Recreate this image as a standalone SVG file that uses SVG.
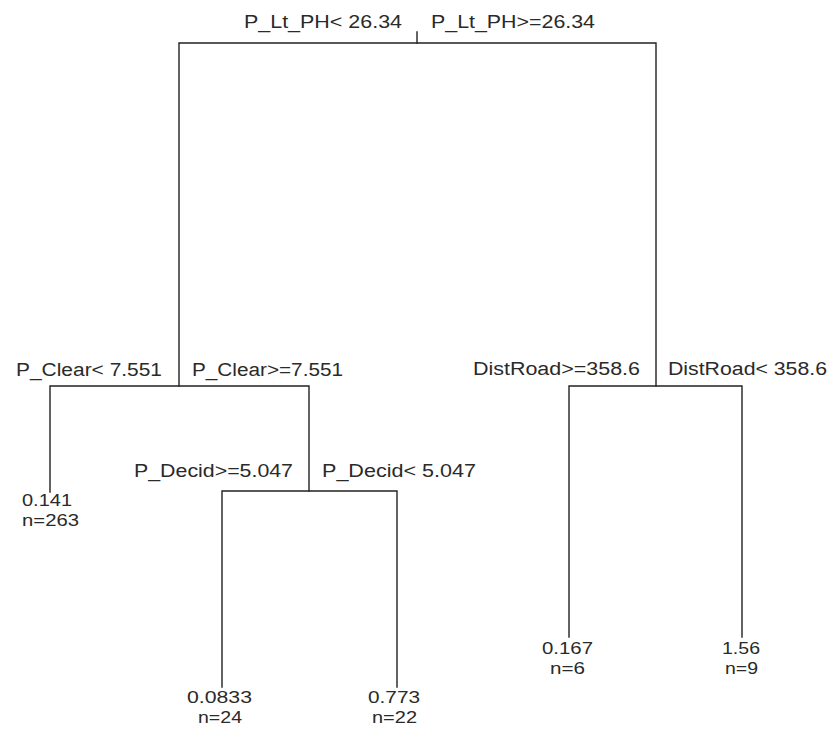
<svg xmlns="http://www.w3.org/2000/svg" width="833" height="734" viewBox="0 0 833 734">
  <style>
    .edge { stroke: #222; stroke-width: 1.4; fill: none; stroke-linecap: square; }
    text { font-family: "Liberation Sans", Arial, sans-serif; font-size: 18px; fill: #2a2a2a; }
    .leaf text { font-size: 17px; }
  </style>
  <rect width="833" height="734" fill="#ffffff"/>

  <!-- tree branches -->
  <g id="connectors">
    <path class="edge" d="M417,32 V43"/>
    <path class="edge" d="M179,386 V43 H656 V386"/>
    <path class="edge" d="M50,492 V386 H309 V491"/>
    <path class="edge" d="M569,637 V386 H742 V637"/>
    <path class="edge" d="M222,687 V491 H397 V687"/>
  </g>

  <!-- root split -->
  <g id="split-root">
    <text x="244" y="28" textLength="158" lengthAdjust="spacingAndGlyphs">P_Lt_PH&lt; 26.34</text>
    <text x="431" y="28" textLength="164" lengthAdjust="spacingAndGlyphs">P_Lt_PH&gt;=26.34</text>
  </g>

  <!-- left split -->
  <g id="split-clear">
    <text x="16" y="376" textLength="146" lengthAdjust="spacingAndGlyphs">P_Clear&lt; 7.551</text>
    <text x="192" y="376" textLength="151" lengthAdjust="spacingAndGlyphs">P_Clear&gt;=7.551</text>
  </g>

  <!-- right split -->
  <g id="split-distroad">
    <text x="473" y="375" textLength="167" lengthAdjust="spacingAndGlyphs">DistRoad&gt;=358.6</text>
    <text x="668" y="375" textLength="159" lengthAdjust="spacingAndGlyphs">DistRoad&lt; 358.6</text>
  </g>

  <!-- deciduous split -->
  <g id="split-decid">
    <text x="134" y="477" textLength="159" lengthAdjust="spacingAndGlyphs">P_Decid&gt;=5.047</text>
    <text x="322" y="477" textLength="154" lengthAdjust="spacingAndGlyphs">P_Decid&lt; 5.047</text>
  </g>

  <!-- leaves -->
  <g id="leaf-1" class="leaf">
    <text x="22" y="506" textLength="50" lengthAdjust="spacingAndGlyphs">0.141</text>
    <text x="22" y="526" textLength="57" lengthAdjust="spacingAndGlyphs">n=263</text>
  </g>
  <g id="leaf-2" class="leaf">
    <text x="187" y="703" textLength="65" lengthAdjust="spacingAndGlyphs">0.0833</text>
    <text x="198" y="723" textLength="44" lengthAdjust="spacingAndGlyphs">n=24</text>
  </g>
  <g id="leaf-3" class="leaf">
    <text x="368" y="703" textLength="52" lengthAdjust="spacingAndGlyphs">0.773</text>
    <text x="372" y="723" textLength="45" lengthAdjust="spacingAndGlyphs">n=22</text>
  </g>
  <g id="leaf-4" class="leaf">
    <text x="542" y="654" textLength="51" lengthAdjust="spacingAndGlyphs">0.167</text>
    <text x="550" y="674" textLength="35" lengthAdjust="spacingAndGlyphs">n=6</text>
  </g>
  <g id="leaf-5" class="leaf">
    <text x="722" y="654" textLength="38" lengthAdjust="spacingAndGlyphs">1.56</text>
    <text x="725" y="674" textLength="33" lengthAdjust="spacingAndGlyphs">n=9</text>
  </g>
</svg>
